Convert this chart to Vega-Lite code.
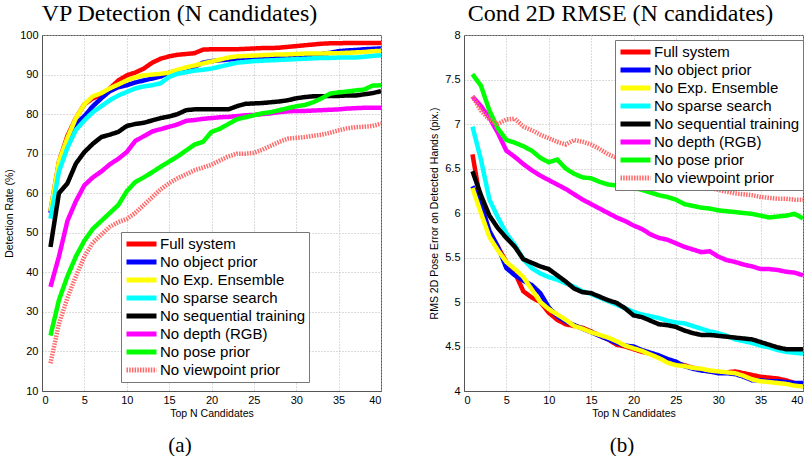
{
  "$schema": "https://vega.github.io/schema/vega-lite/v6.json",
  "background": "white",
  "padding": {"left": 4, "top": 1, "right": 0, "bottom": 0},
  "spacing": 47,
  "resolve": {"scale": {"color": "independent", "strokeDash": "independent"}, "legend": {"color": "independent", "strokeDash": "independent"}},
  "datasets": {
    "a": [
      {"s":"Full system","n":1,"v":55.5},{"s":"Full system","n":2,"v":68},{"s":"Full system","n":3,"v":74.5},{"s":"Full system","n":4,"v":79},{"s":"Full system","n":5,"v":82.5},{"s":"Full system","n":6,"v":84},{"s":"Full system","n":7,"v":84.8},{"s":"Full system","n":8,"v":86.5},{"s":"Full system","n":9,"v":88.5},{"s":"Full system","n":10,"v":89.8},{"s":"Full system","n":11,"v":90.5},{"s":"Full system","n":12,"v":91.5},{"s":"Full system","n":13,"v":93},{"s":"Full system","n":14,"v":94},{"s":"Full system","n":15,"v":94.6},{"s":"Full system","n":16,"v":95},{"s":"Full system","n":17,"v":95.2},{"s":"Full system","n":18,"v":95.4},{"s":"Full system","n":19,"v":96.3},{"s":"Full system","n":20,"v":96.4},{"s":"Full system","n":21,"v":96.4},{"s":"Full system","n":22,"v":96.4},{"s":"Full system","n":23,"v":96.4},{"s":"Full system","n":24,"v":96.5},{"s":"Full system","n":25,"v":96.6},{"s":"Full system","n":26,"v":96.7},{"s":"Full system","n":27,"v":96.7},{"s":"Full system","n":28,"v":96.8},{"s":"Full system","n":29,"v":97},{"s":"Full system","n":30,"v":97.2},{"s":"Full system","n":31,"v":97.4},{"s":"Full system","n":32,"v":97.6},{"s":"Full system","n":33,"v":97.8},{"s":"Full system","n":34,"v":97.9},{"s":"Full system","n":35,"v":97.9},{"s":"Full system","n":36,"v":98},{"s":"Full system","n":37,"v":98},{"s":"Full system","n":38,"v":98},{"s":"Full system","n":39,"v":98},{"s":"Full system","n":40,"v":98},
      {"s":"No object prior","n":1,"v":55},{"s":"No object prior","n":2,"v":66.5},{"s":"No object prior","n":3,"v":73.5},{"s":"No object prior","n":4,"v":77.5},{"s":"No object prior","n":5,"v":79.5},{"s":"No object prior","n":6,"v":82},{"s":"No object prior","n":7,"v":84},{"s":"No object prior","n":8,"v":85.8},{"s":"No object prior","n":9,"v":86.8},{"s":"No object prior","n":10,"v":87.3},{"s":"No object prior","n":11,"v":88},{"s":"No object prior","n":12,"v":88.5},{"s":"No object prior","n":13,"v":89},{"s":"No object prior","n":14,"v":89.5},{"s":"No object prior","n":15,"v":90.5},{"s":"No object prior","n":16,"v":91},{"s":"No object prior","n":17,"v":91.5},{"s":"No object prior","n":18,"v":92},{"s":"No object prior","n":19,"v":93},{"s":"No object prior","n":20,"v":93.4},{"s":"No object prior","n":21,"v":93.6},{"s":"No object prior","n":22,"v":93.8},{"s":"No object prior","n":23,"v":94},{"s":"No object prior","n":24,"v":94},{"s":"No object prior","n":25,"v":94.1},{"s":"No object prior","n":26,"v":94.2},{"s":"No object prior","n":27,"v":94.3},{"s":"No object prior","n":28,"v":94.4},{"s":"No object prior","n":29,"v":94.4},{"s":"No object prior","n":30,"v":94.6},{"s":"No object prior","n":31,"v":94.8},{"s":"No object prior","n":32,"v":95},{"s":"No object prior","n":33,"v":95.2},{"s":"No object prior","n":34,"v":95.5},{"s":"No object prior","n":35,"v":95.9},{"s":"No object prior","n":36,"v":96.1},{"s":"No object prior","n":37,"v":96.2},{"s":"No object prior","n":38,"v":96.4},{"s":"No object prior","n":39,"v":96.5},{"s":"No object prior","n":40,"v":96.6},
      {"s":"No Exp. Ensemble","n":1,"v":55.5},{"s":"No Exp. Ensemble","n":2,"v":68},{"s":"No Exp. Ensemble","n":3,"v":74},{"s":"No Exp. Ensemble","n":4,"v":79},{"s":"No Exp. Ensemble","n":5,"v":82.5},{"s":"No Exp. Ensemble","n":6,"v":84.5},{"s":"No Exp. Ensemble","n":7,"v":85.3},{"s":"No Exp. Ensemble","n":8,"v":86.5},{"s":"No Exp. Ensemble","n":9,"v":87.5},{"s":"No Exp. Ensemble","n":10,"v":88.5},{"s":"No Exp. Ensemble","n":11,"v":89.3},{"s":"No Exp. Ensemble","n":12,"v":89.8},{"s":"No Exp. Ensemble","n":13,"v":90},{"s":"No Exp. Ensemble","n":14,"v":90.2},{"s":"No Exp. Ensemble","n":15,"v":90.5},{"s":"No Exp. Ensemble","n":16,"v":91.2},{"s":"No Exp. Ensemble","n":17,"v":91.8},{"s":"No Exp. Ensemble","n":18,"v":92.3},{"s":"No Exp. Ensemble","n":19,"v":92.8},{"s":"No Exp. Ensemble","n":20,"v":93.3},{"s":"No Exp. Ensemble","n":21,"v":93.8},{"s":"No Exp. Ensemble","n":22,"v":94.3},{"s":"No Exp. Ensemble","n":23,"v":94.6},{"s":"No Exp. Ensemble","n":24,"v":94.7},{"s":"No Exp. Ensemble","n":25,"v":94.8},{"s":"No Exp. Ensemble","n":26,"v":94.9},{"s":"No Exp. Ensemble","n":27,"v":95},{"s":"No Exp. Ensemble","n":28,"v":95.1},{"s":"No Exp. Ensemble","n":29,"v":95.1},{"s":"No Exp. Ensemble","n":30,"v":95.2},{"s":"No Exp. Ensemble","n":31,"v":95.3},{"s":"No Exp. Ensemble","n":32,"v":95.3},{"s":"No Exp. Ensemble","n":33,"v":95.3},{"s":"No Exp. Ensemble","n":34,"v":95.4},{"s":"No Exp. Ensemble","n":35,"v":95.4},{"s":"No Exp. Ensemble","n":36,"v":95.5},{"s":"No Exp. Ensemble","n":37,"v":95.6},{"s":"No Exp. Ensemble","n":38,"v":95.7},{"s":"No Exp. Ensemble","n":39,"v":95.9},{"s":"No Exp. Ensemble","n":40,"v":96},
      {"s":"No sparse search","n":1,"v":53.6},{"s":"No sparse search","n":2,"v":65.5},{"s":"No sparse search","n":3,"v":71.5},{"s":"No sparse search","n":4,"v":76},{"s":"No sparse search","n":5,"v":78.4},{"s":"No sparse search","n":6,"v":80.5},{"s":"No sparse search","n":7,"v":82},{"s":"No sparse search","n":8,"v":83.5},{"s":"No sparse search","n":9,"v":84.7},{"s":"No sparse search","n":10,"v":85.6},{"s":"No sparse search","n":11,"v":86.5},{"s":"No sparse search","n":12,"v":87},{"s":"No sparse search","n":13,"v":87.3},{"s":"No sparse search","n":14,"v":87.8},{"s":"No sparse search","n":15,"v":89.4},{"s":"No sparse search","n":16,"v":90.2},{"s":"No sparse search","n":17,"v":90.6},{"s":"No sparse search","n":18,"v":91},{"s":"No sparse search","n":19,"v":91.2},{"s":"No sparse search","n":20,"v":91.5},{"s":"No sparse search","n":21,"v":92},{"s":"No sparse search","n":22,"v":92.5},{"s":"No sparse search","n":23,"v":93},{"s":"No sparse search","n":24,"v":93.2},{"s":"No sparse search","n":25,"v":93.4},{"s":"No sparse search","n":26,"v":93.5},{"s":"No sparse search","n":27,"v":93.6},{"s":"No sparse search","n":28,"v":93.7},{"s":"No sparse search","n":29,"v":93.8},{"s":"No sparse search","n":30,"v":93.9},{"s":"No sparse search","n":31,"v":94},{"s":"No sparse search","n":32,"v":94.1},{"s":"No sparse search","n":33,"v":94.2},{"s":"No sparse search","n":34,"v":94.2},{"s":"No sparse search","n":35,"v":94.3},{"s":"No sparse search","n":36,"v":94.3},{"s":"No sparse search","n":37,"v":94.3},{"s":"No sparse search","n":38,"v":94.5},{"s":"No sparse search","n":39,"v":94.7},{"s":"No sparse search","n":40,"v":94.9},
      {"s":"No sequential training","n":1,"v":46.4},{"s":"No sequential training","n":2,"v":60},{"s":"No sequential training","n":3,"v":62.5},{"s":"No sequential training","n":4,"v":67.5},{"s":"No sequential training","n":5,"v":70.4},{"s":"No sequential training","n":6,"v":72.5},{"s":"No sequential training","n":7,"v":74.2},{"s":"No sequential training","n":8,"v":74.8},{"s":"No sequential training","n":9,"v":75.5},{"s":"No sequential training","n":10,"v":77},{"s":"No sequential training","n":11,"v":77.5},{"s":"No sequential training","n":12,"v":77.8},{"s":"No sequential training","n":13,"v":78.4},{"s":"No sequential training","n":14,"v":79},{"s":"No sequential training","n":15,"v":79.4},{"s":"No sequential training","n":16,"v":80},{"s":"No sequential training","n":17,"v":81},{"s":"No sequential training","n":18,"v":81.2},{"s":"No sequential training","n":19,"v":81.2},{"s":"No sequential training","n":20,"v":81.2},{"s":"No sequential training","n":21,"v":81.2},{"s":"No sequential training","n":22,"v":81.2},{"s":"No sequential training","n":23,"v":82},{"s":"No sequential training","n":24,"v":82.6},{"s":"No sequential training","n":25,"v":82.7},{"s":"No sequential training","n":26,"v":82.8},{"s":"No sequential training","n":27,"v":83},{"s":"No sequential training","n":28,"v":83.2},{"s":"No sequential training","n":29,"v":83.5},{"s":"No sequential training","n":30,"v":84},{"s":"No sequential training","n":31,"v":84.3},{"s":"No sequential training","n":32,"v":84.5},{"s":"No sequential training","n":33,"v":84.5},{"s":"No sequential training","n":34,"v":84.6},{"s":"No sequential training","n":35,"v":84.6},{"s":"No sequential training","n":36,"v":84.7},{"s":"No sequential training","n":37,"v":84.7},{"s":"No sequential training","n":38,"v":85},{"s":"No sequential training","n":39,"v":85.3},{"s":"No sequential training","n":40,"v":85.8},
      {"s":"No depth (RGB)","n":1,"v":36.3},{"s":"No depth (RGB)","n":2,"v":44},{"s":"No depth (RGB)","n":3,"v":53},{"s":"No depth (RGB)","n":4,"v":58},{"s":"No depth (RGB)","n":5,"v":62},{"s":"No depth (RGB)","n":6,"v":64},{"s":"No depth (RGB)","n":7,"v":65.5},{"s":"No depth (RGB)","n":8,"v":67.3},{"s":"No depth (RGB)","n":9,"v":68.7},{"s":"No depth (RGB)","n":10,"v":70.4},{"s":"No depth (RGB)","n":11,"v":73.2},{"s":"No depth (RGB)","n":12,"v":74.4},{"s":"No depth (RGB)","n":13,"v":75.6},{"s":"No depth (RGB)","n":14,"v":76.2},{"s":"No depth (RGB)","n":15,"v":76.8},{"s":"No depth (RGB)","n":16,"v":77.4},{"s":"No depth (RGB)","n":17,"v":78.3},{"s":"No depth (RGB)","n":18,"v":78.5},{"s":"No depth (RGB)","n":19,"v":78.8},{"s":"No depth (RGB)","n":20,"v":79},{"s":"No depth (RGB)","n":21,"v":79.2},{"s":"No depth (RGB)","n":22,"v":79.3},{"s":"No depth (RGB)","n":23,"v":79.5},{"s":"No depth (RGB)","n":24,"v":79.7},{"s":"No depth (RGB)","n":25,"v":79.8},{"s":"No depth (RGB)","n":26,"v":80},{"s":"No depth (RGB)","n":27,"v":80.2},{"s":"No depth (RGB)","n":28,"v":80.5},{"s":"No depth (RGB)","n":29,"v":80.7},{"s":"No depth (RGB)","n":30,"v":80.8},{"s":"No depth (RGB)","n":31,"v":80.8},{"s":"No depth (RGB)","n":32,"v":80.9},{"s":"No depth (RGB)","n":33,"v":81},{"s":"No depth (RGB)","n":34,"v":81.1},{"s":"No depth (RGB)","n":35,"v":81.2},{"s":"No depth (RGB)","n":36,"v":81.4},{"s":"No depth (RGB)","n":37,"v":81.5},{"s":"No depth (RGB)","n":38,"v":81.6},{"s":"No depth (RGB)","n":39,"v":81.6},{"s":"No depth (RGB)","n":40,"v":81.6},
      {"s":"No pose prior","n":1,"v":24},{"s":"No pose prior","n":2,"v":33},{"s":"No pose prior","n":3,"v":39},{"s":"No pose prior","n":4,"v":44},{"s":"No pose prior","n":5,"v":48},{"s":"No pose prior","n":6,"v":51},{"s":"No pose prior","n":7,"v":53},{"s":"No pose prior","n":8,"v":55},{"s":"No pose prior","n":9,"v":57},{"s":"No pose prior","n":10,"v":60.5},{"s":"No pose prior","n":11,"v":62.8},{"s":"No pose prior","n":12,"v":64},{"s":"No pose prior","n":13,"v":65.3},{"s":"No pose prior","n":14,"v":66.7},{"s":"No pose prior","n":15,"v":68},{"s":"No pose prior","n":16,"v":69.3},{"s":"No pose prior","n":17,"v":70.8},{"s":"No pose prior","n":18,"v":72.3},{"s":"No pose prior","n":19,"v":73},{"s":"No pose prior","n":20,"v":75.5},{"s":"No pose prior","n":21,"v":76.3},{"s":"No pose prior","n":22,"v":77.5},{"s":"No pose prior","n":23,"v":78.7},{"s":"No pose prior","n":24,"v":79.2},{"s":"No pose prior","n":25,"v":79.7},{"s":"No pose prior","n":26,"v":80.2},{"s":"No pose prior","n":27,"v":80.5},{"s":"No pose prior","n":28,"v":81},{"s":"No pose prior","n":29,"v":81.5},{"s":"No pose prior","n":30,"v":82},{"s":"No pose prior","n":31,"v":82.3},{"s":"No pose prior","n":32,"v":83},{"s":"No pose prior","n":33,"v":84},{"s":"No pose prior","n":34,"v":85.2},{"s":"No pose prior","n":35,"v":85.5},{"s":"No pose prior","n":36,"v":85.7},{"s":"No pose prior","n":37,"v":86},{"s":"No pose prior","n":38,"v":86.2},{"s":"No pose prior","n":39,"v":87.2},{"s":"No pose prior","n":40,"v":87.3},
      {"s":"No viewpoint prior","n":1,"v":17},{"s":"No viewpoint prior","n":2,"v":27},{"s":"No viewpoint prior","n":3,"v":33.5},{"s":"No viewpoint prior","n":4,"v":39},{"s":"No viewpoint prior","n":5,"v":44},{"s":"No viewpoint prior","n":6,"v":47.5},{"s":"No viewpoint prior","n":7,"v":49.5},{"s":"No viewpoint prior","n":8,"v":51.5},{"s":"No viewpoint prior","n":9,"v":52.7},{"s":"No viewpoint prior","n":10,"v":53.5},{"s":"No viewpoint prior","n":11,"v":55},{"s":"No viewpoint prior","n":12,"v":57},{"s":"No viewpoint prior","n":13,"v":59},{"s":"No viewpoint prior","n":14,"v":61},{"s":"No viewpoint prior","n":15,"v":62.5},{"s":"No viewpoint prior","n":16,"v":63.8},{"s":"No viewpoint prior","n":17,"v":64.8},{"s":"No viewpoint prior","n":18,"v":65.8},{"s":"No viewpoint prior","n":19,"v":66.5},{"s":"No viewpoint prior","n":20,"v":67.2},{"s":"No viewpoint prior","n":21,"v":68.3},{"s":"No viewpoint prior","n":22,"v":69.3},{"s":"No viewpoint prior","n":23,"v":70},{"s":"No viewpoint prior","n":24,"v":70},{"s":"No viewpoint prior","n":25,"v":70.2},{"s":"No viewpoint prior","n":26,"v":71},{"s":"No viewpoint prior","n":27,"v":72},{"s":"No viewpoint prior","n":28,"v":73},{"s":"No viewpoint prior","n":29,"v":73.8},{"s":"No viewpoint prior","n":30,"v":74},{"s":"No viewpoint prior","n":31,"v":74.2},{"s":"No viewpoint prior","n":32,"v":74.5},{"s":"No viewpoint prior","n":33,"v":74.8},{"s":"No viewpoint prior","n":34,"v":75.3},{"s":"No viewpoint prior","n":35,"v":75.9},{"s":"No viewpoint prior","n":36,"v":76.4},{"s":"No viewpoint prior","n":37,"v":76.7},{"s":"No viewpoint prior","n":38,"v":76.8},{"s":"No viewpoint prior","n":39,"v":77},{"s":"No viewpoint prior","n":40,"v":77.6}
    ],
    "b": [
      {"s":"Full system","n":1,"v":6.66},{"s":"Full system","n":2,"v":6.1},{"s":"Full system","n":3,"v":5.78},{"s":"Full system","n":4,"v":5.62},{"s":"Full system","n":5,"v":5.45},{"s":"Full system","n":6,"v":5.33},{"s":"Full system","n":7,"v":5.12},{"s":"Full system","n":8,"v":5.05},{"s":"Full system","n":9,"v":5},{"s":"Full system","n":10,"v":4.88},{"s":"Full system","n":11,"v":4.8},{"s":"Full system","n":12,"v":4.75},{"s":"Full system","n":13,"v":4.73},{"s":"Full system","n":14,"v":4.71},{"s":"Full system","n":15,"v":4.67},{"s":"Full system","n":16,"v":4.62},{"s":"Full system","n":17,"v":4.58},{"s":"Full system","n":18,"v":4.52},{"s":"Full system","n":19,"v":4.5},{"s":"Full system","n":20,"v":4.47},{"s":"Full system","n":21,"v":4.44},{"s":"Full system","n":22,"v":4.42},{"s":"Full system","n":23,"v":4.38},{"s":"Full system","n":24,"v":4.33},{"s":"Full system","n":25,"v":4.31},{"s":"Full system","n":26,"v":4.29},{"s":"Full system","n":27,"v":4.26},{"s":"Full system","n":28,"v":4.24},{"s":"Full system","n":29,"v":4.22},{"s":"Full system","n":30,"v":4.21},{"s":"Full system","n":31,"v":4.21},{"s":"Full system","n":32,"v":4.22},{"s":"Full system","n":33,"v":4.2},{"s":"Full system","n":34,"v":4.18},{"s":"Full system","n":35,"v":4.16},{"s":"Full system","n":36,"v":4.15},{"s":"Full system","n":37,"v":4.14},{"s":"Full system","n":38,"v":4.12},{"s":"Full system","n":39,"v":4.09},{"s":"Full system","n":40,"v":4.07},
      {"s":"No object prior","n":1,"v":6.3},{"s":"No object prior","n":2,"v":6.1},{"s":"No object prior","n":3,"v":5.8},{"s":"No object prior","n":4,"v":5.62},{"s":"No object prior","n":5,"v":5.38},{"s":"No object prior","n":6,"v":5.3},{"s":"No object prior","n":7,"v":5.24},{"s":"No object prior","n":8,"v":5.19},{"s":"No object prior","n":9,"v":5.1},{"s":"No object prior","n":10,"v":4.94},{"s":"No object prior","n":11,"v":4.84},{"s":"No object prior","n":12,"v":4.78},{"s":"No object prior","n":13,"v":4.74},{"s":"No object prior","n":14,"v":4.7},{"s":"No object prior","n":15,"v":4.66},{"s":"No object prior","n":16,"v":4.62},{"s":"No object prior","n":17,"v":4.58},{"s":"No object prior","n":18,"v":4.54},{"s":"No object prior","n":19,"v":4.51},{"s":"No object prior","n":20,"v":4.5},{"s":"No object prior","n":21,"v":4.46},{"s":"No object prior","n":22,"v":4.43},{"s":"No object prior","n":23,"v":4.4},{"s":"No object prior","n":24,"v":4.36},{"s":"No object prior","n":25,"v":4.33},{"s":"No object prior","n":26,"v":4.28},{"s":"No object prior","n":27,"v":4.25},{"s":"No object prior","n":28,"v":4.23},{"s":"No object prior","n":29,"v":4.22},{"s":"No object prior","n":30,"v":4.2},{"s":"No object prior","n":31,"v":4.2},{"s":"No object prior","n":32,"v":4.19},{"s":"No object prior","n":33,"v":4.16},{"s":"No object prior","n":34,"v":4.12},{"s":"No object prior","n":35,"v":4.12},{"s":"No object prior","n":36,"v":4.11},{"s":"No object prior","n":37,"v":4.11},{"s":"No object prior","n":38,"v":4.1},{"s":"No object prior","n":39,"v":4.09},{"s":"No object prior","n":40,"v":4.09},
      {"s":"No Exp. Ensemble","n":1,"v":6.28},{"s":"No Exp. Ensemble","n":2,"v":6},{"s":"No Exp. Ensemble","n":3,"v":5.73},{"s":"No Exp. Ensemble","n":4,"v":5.58},{"s":"No Exp. Ensemble","n":5,"v":5.45},{"s":"No Exp. Ensemble","n":6,"v":5.37},{"s":"No Exp. Ensemble","n":7,"v":5.28},{"s":"No Exp. Ensemble","n":8,"v":5.14},{"s":"No Exp. Ensemble","n":9,"v":5},{"s":"No Exp. Ensemble","n":10,"v":4.92},{"s":"No Exp. Ensemble","n":11,"v":4.86},{"s":"No Exp. Ensemble","n":12,"v":4.8},{"s":"No Exp. Ensemble","n":13,"v":4.73},{"s":"No Exp. Ensemble","n":14,"v":4.7},{"s":"No Exp. Ensemble","n":15,"v":4.66},{"s":"No Exp. Ensemble","n":16,"v":4.63},{"s":"No Exp. Ensemble","n":17,"v":4.6},{"s":"No Exp. Ensemble","n":18,"v":4.56},{"s":"No Exp. Ensemble","n":19,"v":4.51},{"s":"No Exp. Ensemble","n":20,"v":4.48},{"s":"No Exp. Ensemble","n":21,"v":4.45},{"s":"No Exp. Ensemble","n":22,"v":4.41},{"s":"No Exp. Ensemble","n":23,"v":4.37},{"s":"No Exp. Ensemble","n":24,"v":4.32},{"s":"No Exp. Ensemble","n":25,"v":4.29},{"s":"No Exp. Ensemble","n":26,"v":4.28},{"s":"No Exp. Ensemble","n":27,"v":4.26},{"s":"No Exp. Ensemble","n":28,"v":4.25},{"s":"No Exp. Ensemble","n":29,"v":4.23},{"s":"No Exp. Ensemble","n":30,"v":4.22},{"s":"No Exp. Ensemble","n":31,"v":4.21},{"s":"No Exp. Ensemble","n":32,"v":4.2},{"s":"No Exp. Ensemble","n":33,"v":4.17},{"s":"No Exp. Ensemble","n":34,"v":4.13},{"s":"No Exp. Ensemble","n":35,"v":4.11},{"s":"No Exp. Ensemble","n":36,"v":4.1},{"s":"No Exp. Ensemble","n":37,"v":4.09},{"s":"No Exp. Ensemble","n":38,"v":4.08},{"s":"No Exp. Ensemble","n":39,"v":4.06},{"s":"No Exp. Ensemble","n":40,"v":4.05},
      {"s":"No sparse search","n":1,"v":6.97},{"s":"No sparse search","n":2,"v":6.6},{"s":"No sparse search","n":3,"v":6.15},{"s":"No sparse search","n":4,"v":5.95},{"s":"No sparse search","n":5,"v":5.77},{"s":"No sparse search","n":6,"v":5.64},{"s":"No sparse search","n":7,"v":5.48},{"s":"No sparse search","n":8,"v":5.38},{"s":"No sparse search","n":9,"v":5.32},{"s":"No sparse search","n":10,"v":5.28},{"s":"No sparse search","n":11,"v":5.25},{"s":"No sparse search","n":12,"v":5.21},{"s":"No sparse search","n":13,"v":5.17},{"s":"No sparse search","n":14,"v":5.12},{"s":"No sparse search","n":15,"v":5.09},{"s":"No sparse search","n":16,"v":5.05},{"s":"No sparse search","n":17,"v":5.01},{"s":"No sparse search","n":18,"v":4.97},{"s":"No sparse search","n":19,"v":4.93},{"s":"No sparse search","n":20,"v":4.89},{"s":"No sparse search","n":21,"v":4.86},{"s":"No sparse search","n":22,"v":4.84},{"s":"No sparse search","n":23,"v":4.82},{"s":"No sparse search","n":24,"v":4.79},{"s":"No sparse search","n":25,"v":4.77},{"s":"No sparse search","n":26,"v":4.76},{"s":"No sparse search","n":27,"v":4.73},{"s":"No sparse search","n":28,"v":4.7},{"s":"No sparse search","n":29,"v":4.67},{"s":"No sparse search","n":30,"v":4.65},{"s":"No sparse search","n":31,"v":4.62},{"s":"No sparse search","n":32,"v":4.58},{"s":"No sparse search","n":33,"v":4.56},{"s":"No sparse search","n":34,"v":4.54},{"s":"No sparse search","n":35,"v":4.51},{"s":"No sparse search","n":36,"v":4.49},{"s":"No sparse search","n":37,"v":4.46},{"s":"No sparse search","n":38,"v":4.44},{"s":"No sparse search","n":39,"v":4.43},{"s":"No sparse search","n":40,"v":4.42},
      {"s":"No sequential training","n":1,"v":6.47},{"s":"No sequential training","n":2,"v":6.2},{"s":"No sequential training","n":3,"v":5.97},{"s":"No sequential training","n":4,"v":5.83},{"s":"No sequential training","n":5,"v":5.72},{"s":"No sequential training","n":6,"v":5.62},{"s":"No sequential training","n":7,"v":5.48},{"s":"No sequential training","n":8,"v":5.44},{"s":"No sequential training","n":9,"v":5.4},{"s":"No sequential training","n":10,"v":5.37},{"s":"No sequential training","n":11,"v":5.3},{"s":"No sequential training","n":12,"v":5.23},{"s":"No sequential training","n":13,"v":5.15},{"s":"No sequential training","n":14,"v":5.11},{"s":"No sequential training","n":15,"v":5.1},{"s":"No sequential training","n":16,"v":5.06},{"s":"No sequential training","n":17,"v":5.02},{"s":"No sequential training","n":18,"v":4.99},{"s":"No sequential training","n":19,"v":4.93},{"s":"No sequential training","n":20,"v":4.85},{"s":"No sequential training","n":21,"v":4.83},{"s":"No sequential training","n":22,"v":4.79},{"s":"No sequential training","n":23,"v":4.75},{"s":"No sequential training","n":24,"v":4.74},{"s":"No sequential training","n":25,"v":4.72},{"s":"No sequential training","n":26,"v":4.68},{"s":"No sequential training","n":27,"v":4.65},{"s":"No sequential training","n":28,"v":4.63},{"s":"No sequential training","n":29,"v":4.63},{"s":"No sequential training","n":30,"v":4.62},{"s":"No sequential training","n":31,"v":4.61},{"s":"No sequential training","n":32,"v":4.6},{"s":"No sequential training","n":33,"v":4.59},{"s":"No sequential training","n":34,"v":4.58},{"s":"No sequential training","n":35,"v":4.55},{"s":"No sequential training","n":36,"v":4.52},{"s":"No sequential training","n":37,"v":4.49},{"s":"No sequential training","n":38,"v":4.47},{"s":"No sequential training","n":39,"v":4.47},{"s":"No sequential training","n":40,"v":4.47},
      {"s":"No depth (RGB)","n":1,"v":7.31},{"s":"No depth (RGB)","n":2,"v":7.2},{"s":"No depth (RGB)","n":3,"v":7.07},{"s":"No depth (RGB)","n":4,"v":6.9},{"s":"No depth (RGB)","n":5,"v":6.7},{"s":"No depth (RGB)","n":6,"v":6.63},{"s":"No depth (RGB)","n":7,"v":6.55},{"s":"No depth (RGB)","n":8,"v":6.48},{"s":"No depth (RGB)","n":9,"v":6.42},{"s":"No depth (RGB)","n":10,"v":6.37},{"s":"No depth (RGB)","n":11,"v":6.32},{"s":"No depth (RGB)","n":12,"v":6.27},{"s":"No depth (RGB)","n":13,"v":6.21},{"s":"No depth (RGB)","n":14,"v":6.15},{"s":"No depth (RGB)","n":15,"v":6.1},{"s":"No depth (RGB)","n":16,"v":6.05},{"s":"No depth (RGB)","n":17,"v":6},{"s":"No depth (RGB)","n":18,"v":5.95},{"s":"No depth (RGB)","n":19,"v":5.91},{"s":"No depth (RGB)","n":20,"v":5.86},{"s":"No depth (RGB)","n":21,"v":5.82},{"s":"No depth (RGB)","n":22,"v":5.76},{"s":"No depth (RGB)","n":23,"v":5.72},{"s":"No depth (RGB)","n":24,"v":5.7},{"s":"No depth (RGB)","n":25,"v":5.66},{"s":"No depth (RGB)","n":26,"v":5.62},{"s":"No depth (RGB)","n":27,"v":5.59},{"s":"No depth (RGB)","n":28,"v":5.56},{"s":"No depth (RGB)","n":29,"v":5.57},{"s":"No depth (RGB)","n":30,"v":5.51},{"s":"No depth (RGB)","n":31,"v":5.47},{"s":"No depth (RGB)","n":32,"v":5.45},{"s":"No depth (RGB)","n":33,"v":5.42},{"s":"No depth (RGB)","n":34,"v":5.4},{"s":"No depth (RGB)","n":35,"v":5.37},{"s":"No depth (RGB)","n":36,"v":5.37},{"s":"No depth (RGB)","n":37,"v":5.36},{"s":"No depth (RGB)","n":38,"v":5.34},{"s":"No depth (RGB)","n":39,"v":5.33},{"s":"No depth (RGB)","n":40,"v":5.3},
      {"s":"No pose prior","n":1,"v":7.56},{"s":"No pose prior","n":2,"v":7.43},{"s":"No pose prior","n":3,"v":7.15},{"s":"No pose prior","n":4,"v":6.95},{"s":"No pose prior","n":5,"v":6.82},{"s":"No pose prior","n":6,"v":6.79},{"s":"No pose prior","n":7,"v":6.75},{"s":"No pose prior","n":8,"v":6.7},{"s":"No pose prior","n":9,"v":6.62},{"s":"No pose prior","n":10,"v":6.57},{"s":"No pose prior","n":11,"v":6.6},{"s":"No pose prior","n":12,"v":6.5},{"s":"No pose prior","n":13,"v":6.44},{"s":"No pose prior","n":14,"v":6.4},{"s":"No pose prior","n":15,"v":6.39},{"s":"No pose prior","n":16,"v":6.35},{"s":"No pose prior","n":17,"v":6.32},{"s":"No pose prior","n":18,"v":6.31},{"s":"No pose prior","n":19,"v":6.3},{"s":"No pose prior","n":20,"v":6.28},{"s":"No pose prior","n":21,"v":6.26},{"s":"No pose prior","n":22,"v":6.23},{"s":"No pose prior","n":23,"v":6.2},{"s":"No pose prior","n":24,"v":6.18},{"s":"No pose prior","n":25,"v":6.15},{"s":"No pose prior","n":26,"v":6.1},{"s":"No pose prior","n":27,"v":6.08},{"s":"No pose prior","n":28,"v":6.06},{"s":"No pose prior","n":29,"v":6.05},{"s":"No pose prior","n":30,"v":6.03},{"s":"No pose prior","n":31,"v":6.02},{"s":"No pose prior","n":32,"v":6.01},{"s":"No pose prior","n":33,"v":6},{"s":"No pose prior","n":34,"v":5.99},{"s":"No pose prior","n":35,"v":5.97},{"s":"No pose prior","n":36,"v":5.95},{"s":"No pose prior","n":37,"v":5.96},{"s":"No pose prior","n":38,"v":5.97},{"s":"No pose prior","n":39,"v":5.99},{"s":"No pose prior","n":40,"v":5.94},
      {"s":"No viewpoint prior","n":1,"v":7.31},{"s":"No viewpoint prior","n":2,"v":7.15},{"s":"No viewpoint prior","n":3,"v":7.05},{"s":"No viewpoint prior","n":4,"v":7},{"s":"No viewpoint prior","n":5,"v":7.05},{"s":"No viewpoint prior","n":6,"v":7.06},{"s":"No viewpoint prior","n":7,"v":6.97},{"s":"No viewpoint prior","n":8,"v":6.93},{"s":"No viewpoint prior","n":9,"v":6.88},{"s":"No viewpoint prior","n":10,"v":6.84},{"s":"No viewpoint prior","n":11,"v":6.8},{"s":"No viewpoint prior","n":12,"v":6.77},{"s":"No viewpoint prior","n":13,"v":6.82},{"s":"No viewpoint prior","n":14,"v":6.8},{"s":"No viewpoint prior","n":15,"v":6.77},{"s":"No viewpoint prior","n":16,"v":6.72},{"s":"No viewpoint prior","n":17,"v":6.66},{"s":"No viewpoint prior","n":18,"v":6.62},{"s":"No viewpoint prior","n":19,"v":6.58},{"s":"No viewpoint prior","n":20,"v":6.55},{"s":"No viewpoint prior","n":21,"v":6.52},{"s":"No viewpoint prior","n":22,"v":6.49},{"s":"No viewpoint prior","n":23,"v":6.46},{"s":"No viewpoint prior","n":24,"v":6.43},{"s":"No viewpoint prior","n":25,"v":6.4},{"s":"No viewpoint prior","n":26,"v":6.37},{"s":"No viewpoint prior","n":27,"v":6.34},{"s":"No viewpoint prior","n":28,"v":6.31},{"s":"No viewpoint prior","n":29,"v":6.28},{"s":"No viewpoint prior","n":30,"v":6.26},{"s":"No viewpoint prior","n":31,"v":6.24},{"s":"No viewpoint prior","n":32,"v":6.22},{"s":"No viewpoint prior","n":33,"v":6.21},{"s":"No viewpoint prior","n":34,"v":6.2},{"s":"No viewpoint prior","n":35,"v":6.18},{"s":"No viewpoint prior","n":36,"v":6.17},{"s":"No viewpoint prior","n":37,"v":6.16},{"s":"No viewpoint prior","n":38,"v":6.16},{"s":"No viewpoint prior","n":39,"v":6.15},{"s":"No viewpoint prior","n":40,"v":6.15}
    ]
  },
  "hconcat": [
    {
      "title": {"text": "(a)", "orient": "bottom", "font": "Liberation Serif", "fontSize": 21, "fontWeight": "normal", "color": "black", "anchor": "middle", "frame": "group", "dx": 138, "offset": 16},
      "vconcat": [
        {
          "title": {"text": "VP Detection (N candidates)", "font": "Liberation Serif", "fontSize": 24, "fontWeight": "normal", "color": "black", "anchor": "middle", "frame": "group", "dx": -32, "offset": 3},
          "width": 339,
          "height": 356,
          "data": {"name": "a"},
          "mark": {"type": "line", "strokeWidth": 4.5, "clip": true},
          "encoding": {
            "x": {"field": "n", "type": "quantitative", "scale": {"domain": [0, 40], "nice": false}, "axis": {"values": [0,5,10,15,20,25,30,35,40], "title": "Top N Candidates"}},
            "y": {"field": "v", "type": "quantitative", "scale": {"domain": [10, 100], "nice": false, "zero": false}, "axis": {"values": [10,20,30,40,50,60,70,80,90,100], "title": "Detection Rate (%)"}},
            "color": {"field": "s", "type": "nominal", "sort": null, "scale": {"domain": ["Full system","No object prior","No Exp. Ensemble","No sparse search","No sequential training","No depth (RGB)","No pose prior","No viewpoint prior"], "range": ["#ff0000","#0000ff","#ffff00","#00ffff","#000000","#ff00ff","#00ff00","#ff6a6a"]},
              "legend": {"orient": "none", "legendX": 79, "legendY": 197, "title": null, "symbolType": "stroke", "symbolSize": 900, "symbolStrokeWidth": 5, "clipHeight": 17.9, "rowPadding": 0, "labelFont": "Liberation Sans", "labelFontSize": 15, "labelColor": "black", "labelOffset": 1, "labelLimit": 300, "strokeColor": "#777", "fillColor": "white", "padding": 3}},
            "strokeDash": {"field": "s", "type": "nominal", "sort": null, "scale": {"domain": ["Full system","No object prior","No Exp. Ensemble","No sparse search","No sequential training","No depth (RGB)","No pose prior","No viewpoint prior"], "range": [[1,0],[1,0],[1,0],[1,0],[1,0],[1,0],[1,0],[1.5,1.2]]}, "legend": null}
          }
        }
      ]
    },
    {
      "title": {"text": "(b)", "orient": "bottom", "font": "Liberation Serif", "fontSize": 21, "fontWeight": "normal", "color": "black", "anchor": "middle", "frame": "group", "dx": 158, "offset": 16},
      "vconcat": [
        {
          "title": {"text": "Cond 2D RMSE (N candidates)", "font": "Liberation Serif", "fontSize": 24, "fontWeight": "normal", "color": "black", "anchor": "middle", "frame": "group", "dx": -13, "offset": 3},
          "width": 339,
          "height": 356,
          "data": {"name": "b"},
          "mark": {"type": "line", "strokeWidth": 4.5, "clip": true},
          "encoding": {
            "x": {"field": "n", "type": "quantitative", "scale": {"domain": [0, 40], "nice": false}, "axis": {"values": [0,5,10,15,20,25,30,35,40], "title": "Top N Candidates"}},
            "y": {"field": "v", "type": "quantitative", "scale": {"domain": [4, 8], "nice": false, "zero": false}, "axis": {"values": [4,4.5,5,5.5,6,6.5,7,7.5,8], "format": "~g", "title": "RMS 2D Pose Error on Detected Hands (pix.)"}},
            "color": {"field": "s", "type": "nominal", "sort": null, "scale": {"domain": ["Full system","No object prior","No Exp. Ensemble","No sparse search","No sequential training","No depth (RGB)","No pose prior","No viewpoint prior"], "range": ["#ff0000","#0000ff","#ffff00","#00ffff","#000000","#ff00ff","#00ff00","#ff6a6a"]},
              "legend": {"orient": "none", "legendX": 151, "legendY": 5, "title": null, "symbolType": "stroke", "symbolSize": 900, "symbolStrokeWidth": 5, "clipHeight": 17.9, "rowPadding": 0, "labelFont": "Liberation Sans", "labelFontSize": 15, "labelColor": "black", "labelOffset": 1, "labelLimit": 300, "strokeColor": "#777", "fillColor": "white", "padding": 3}},
            "strokeDash": {"field": "s", "type": "nominal", "sort": null, "scale": {"domain": ["Full system","No object prior","No Exp. Ensemble","No sparse search","No sequential training","No depth (RGB)","No pose prior","No viewpoint prior"], "range": [[1,0],[1,0],[1,0],[1,0],[1,0],[1,0],[1,0],[1.5,1.2]]}, "legend": null}
          }
        }
      ]
    }
  ],
  "config": {
    "view": {"stroke": "#555", "strokeWidth": 1},
    "axis": {
      "grid": true, "gridColor": "#b8b8b8", "gridDash": [1, 2], "gridWidth": 1,
      "domainColor": "#555", "ticks": false,
      "labelFont": "Liberation Sans", "labelFontSize": 11, "labelColor": "black", "labelPadding": 3,
      "titleFont": "Liberation Sans", "titleFontSize": 10.5, "titleFontWeight": "normal", "titleColor": "black", "titlePadding": 3
    },
    "axisY": {"labelPadding": 4, "titlePadding": 5}
  }
}
